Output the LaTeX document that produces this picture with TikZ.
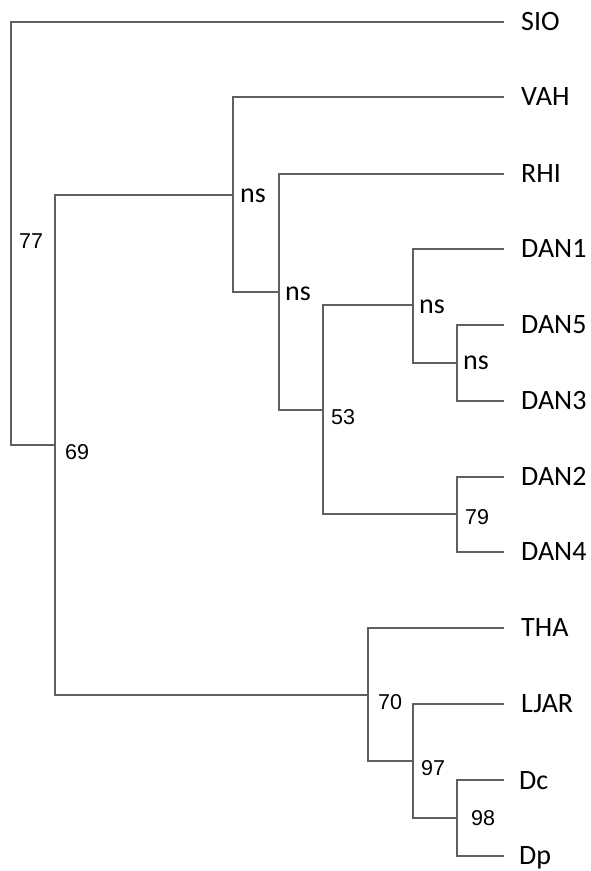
\documentclass[tikz,border=0pt]{standalone}
\usepackage{fontspec}
\setmainfont{Carlito}
\newfontfamily\numfont{Liberation Sans}
\definecolor{branchgray}{RGB}{95,95,95}
\begin{document}
\begin{tikzpicture}[x=1pt,y=-1pt,
  branch/.style={draw=branchgray,line width=1.1pt,line cap=rect},
  leaflabel/.style={anchor=base west,inner sep=0pt,font=\fontsize{28}{30}\selectfont},
  nslabel/.style={anchor=base west,inner sep=0pt,font=\fontsize{28}{30}\selectfont},
  support/.style={anchor=base west,inner sep=0pt,font=\numfont\fontsize{21.5}{24}\selectfont}]
\useasboundingbox[fill=white] (0,0) rectangle (590,871);
% internal nodes
\coordinate (R) at (11,445);
\coordinate (A) at (55,445);
\coordinate (B) at (233,195);
\coordinate (C) at (279,292);
\coordinate (D) at (323,410);
\coordinate (E) at (413,305);
\coordinate (F) at (457,363);
\coordinate (G) at (457,514);
\coordinate (H) at (368,695);
\coordinate (I) at (413,761);
\coordinate (J) at (457,818);
% tips
\coordinate (tSIO) at (503,22);
\coordinate (tVAH) at (503,97);
\coordinate (tRHI) at (503,174);
\coordinate (tDANa) at (503,249);
\coordinate (tDANe) at (503,325);
\coordinate (tDANc) at (503,401);
\coordinate (tDANb) at (503,477);
\coordinate (tDANd) at (503,552);
\coordinate (tTHA) at (503,628);
\coordinate (tLJAR) at (503,704);
\coordinate (tDc) at (503,780);
\coordinate (tDp) at (503,856);
% branches
\draw[branch] (R) |- (tSIO);
\draw[branch] (R) |- (A);
\draw[branch] (A) |- (B);
\draw[branch] (A) |- (H);
\draw[branch] (B) |- (tVAH);
\draw[branch] (B) |- (C);
\draw[branch] (C) |- (tRHI);
\draw[branch] (C) |- (D);
\draw[branch] (D) |- (E);
\draw[branch] (D) |- (G);
\draw[branch] (E) |- (tDANa);
\draw[branch] (E) |- (F);
\draw[branch] (F) |- (tDANe);
\draw[branch] (F) |- (tDANc);
\draw[branch] (G) |- (tDANb);
\draw[branch] (G) |- (tDANd);
\draw[branch] (H) |- (tTHA);
\draw[branch] (H) |- (I);
\draw[branch] (I) |- (tLJAR);
\draw[branch] (I) |- (J);
\draw[branch] (J) |- (tDc);
\draw[branch] (J) |- (tDp);
% leaf labels
\node[leaflabel] (lSIO) at (521,30) {SIO};
\node[leaflabel] (lVAH) at (521,105) {VAH};
\node[leaflabel] (lRHI) at (521,182) {RHI};
\node[leaflabel] (lDANa) at (521,257) {DAN1};
\node[leaflabel] (lDANe) at (521,333) {DAN5};
\node[leaflabel] (lDANc) at (521,409) {DAN3};
\node[leaflabel] (lDANb) at (521,485) {DAN2};
\node[leaflabel] (lDANd) at (521,560) {DAN4};
\node[leaflabel] (lTHA) at (521,636) {THA};
\node[leaflabel] (lLJAR) at (521,712) {LJAR};
\node[leaflabel] (lDc) at (519,789) {Dc};
\node[leaflabel] (lDp) at (519,864) {Dp};
% support values
\node[support] (s77) at (19,248) {77};
\node[support] (s69) at (65,459) {69};
\node[nslabel] (sB) at (240,202) {ns};
\node[nslabel] (sC) at (285,300) {ns};
\node[support] (s53) at (331,424) {53};
\node[nslabel] (sE) at (419,313) {ns};
\node[nslabel] (sF) at (463,369) {ns};
\node[support] (s79) at (465,524) {79};
\node[support] (s70) at (378,709) {70};
\node[support] (s97) at (421,775) {97};
\node[support] (s98) at (471,825) {98};
\end{tikzpicture}
\end{document}
